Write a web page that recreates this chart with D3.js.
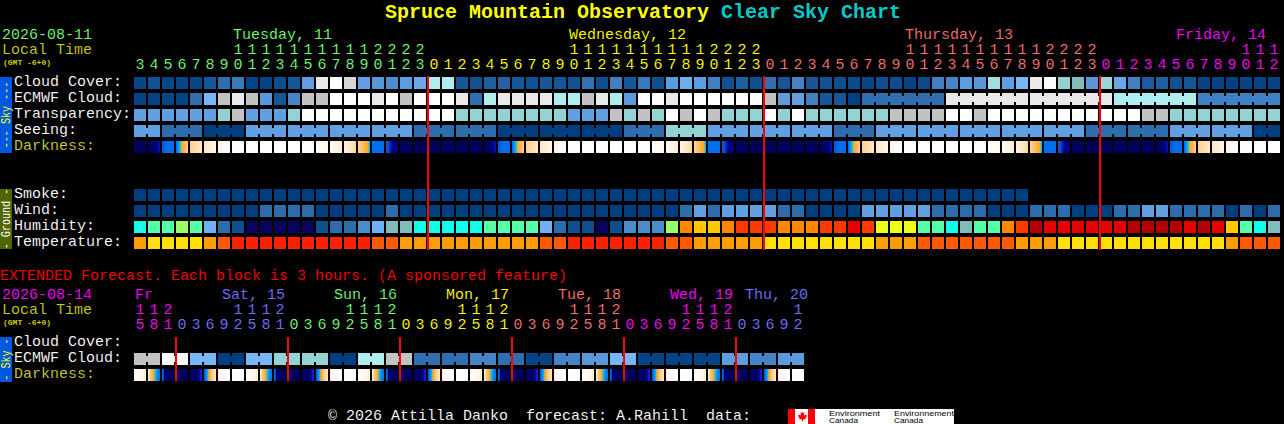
<!DOCTYPE html>
<html><head><meta charset="utf-8">
<script src="https://cdn.jsdelivr.net/npm/d3@7/dist/d3.min.js"></script>
<style>
html,body{margin:0;padding:0;background:#000;overflow:hidden}
svg{display:block}
text{font-family:"Liberation Mono",monospace;font-size:15px;white-space:pre;-webkit-font-smoothing:none}
.thin text,text.thin{stroke:#000;stroke-width:.1px}
</style></head><body><svg id="c" width="1284" height="424"></svg>
<script>
// ---------- data ----------
const mainHours=[3,4,5,6,7,8,9,10,11,12,13,14,15,16,17,18,19,20,21,22,23,
0,1,2,3,4,5,6,7,8,9,10,11,12,13,14,15,16,17,18,19,20,21,22,23,
0,1,2,3,4,5,6,7,8,9,10,11,12,13,14,15,16,17,18,19,20,21,22,23,
0,1,2,3,4,5,6,7,8,9,10,11,12];
const mainDayLabels=["Tuesday, 11","Wednesday, 12","Thursday, 13","Friday, 14"];
const mainDayFirstCol=[0,21,45,69];
const mainDayLabelCol=[7.07,31.07,55.07,74.43];
const midnightCols=[21,45,69];
const extHours=[15,18,21,0,3,6,9,12,15,18,21,0,3,6,9,12,15,18,21,0,3,6,9,12,15,18,21,0,3,6,9,12,15,18,21,0,3,6,9,12,15,18,21,0,3,6,9,12];
const extDayLabels=["Fr","Sat, 15","Sun, 16","Mon, 17","Tue, 18","Wed, 19","Thu, 20"];
const extDayFirstCol=[0,3,11,19,27,35,43];
const extDayLabelCol=[0.07,6.29,14.29,22.29,30.29,38.29,43.64];
const extMidnightCols=[3,11,19,27,35,43];

const cloudCover=[5,12,5,5,5,15,30,35,3,3,10,15,50,90,100,85,50,45,42,48,52,
72,72,15,12,20,22,15,12,15,15,12,32,10,38,15,35,10,47,53,48,38,12,20,10,
30,15,40,15,12,10,8,
5,10,8,4,8,38,40,48,45,70,50,55,90,98,67,63,45,68,52,38,18,20,12,14,3,3,2,4,4,3];
const ecmwfCloud=[3,3,4,3,30,55,80,90,80,45,15,40,80,80,100,100,100,90,100,80,100,
100,100,90,30,72,90,90,90,90,72,72,80,90,72,47,100,100,90,100,100,100,100,100,100,80,48,50,38,15,15,2,
30,30,30,30,30,30,90,90,90,90,90,90,90,90,90,90,90,90,72,72,72,72,72,72,38,38,38,38,38,38];
const ecmwfGroupStarts=[52,58,64,70,76];
const transparency=[3,3,3,3,3,3,2,1,3,3,3,2,0,0,0,0,0,0,0,0,0,
0,0,2,2,2,2,2,2,2,2,3,3,3,1,2,1,2,0,1,0,1,2,2,2,0,2,0,2,2,2,2,2,2,
1,1,1,1,0,0,1,0,0,0,0,0,0,0,0,0,0,0,1,1,2,2,2,2,2,2,2,2];
const seeing=[3,3,4,4,4,5,5,5,3,3,3,3,3,3,3,3,3,3,3,3,4,4,4,4,4,4,5,5,5,5,5,5,5,5,5,4,4,4,2,2,2,
3,3,3,3,3,3,3,3,3,4,4,4,3,3,3,3,3,3,3,3,3,3,3,3,3,3,3,4,4,4,4,4,4,3,3,3,3,3,3,5,5];
const seeingGroupStarts=[0,2,5,8,11,14,17,20,23,26,29,32,35,38,41,44,47,50,53,56,59,62,65,68,71,74,77,80];
const darkness=[
[1,1],[1,1,2.3],[3.3,4,4],[4,7],[7.2,8],[8,9],[9,9.7],[9.8,10],[10,10],[10,10],[10,10],[10,10],[10,9.8],[9.8,9.2],[9.4,8.4],[8.7,7.4],[7.3,5],[4,4],[3.5,2,1.2],[1,1],[0.8,0.8],
[1,1],[1,1],[1,1],[1,1],[1,1,2.3],[3.3,4,4],[4,7],[7.2,8],[8,9],[9,9.7],[9.8,10],[10,10],[10,10],[10,10],[10,10],[10,9.8],[9.8,9.2],[9.4,8.4],[8.7,7.4],[7.3,5],[4,4],[3.5,2,1.2],[1,1],[0.8,0.8],
[1,1],[1,1],[1,1],[1,1],[1,1,2.3],[3.3,4,4],[4,7],[7.2,8],[8,9],[9,9.7],[9.8,10],[10,10],[10,10],[10,10],[10,10],[10,9.8],[9.8,9.2],[9.4,8.4],[8.7,7.4],[7.3,5],[4,4],[3.5,2,1.2],[1,1],[0.8,0.8],
[1,1],[1,1],[1,1],[1,1],[1,1,2.3],[3.3,4,4],[4,7],[7.2,8],[8,9],[9,9.7],[9.8,10],[10,10],[10,10]];
const smoke=[0,0,0,0,0,0,0,0,0,0,0,0,0,0,0,0,0,0,0,0,0,0,0,0,0,0,0,0,0,0,0,0,0,0,0,0,0,0,0,0,0,0,0,0,0,0,0,0,0,0,0,0,0,0,0,0,0,0,0,0,0,0,0,0];
const wind=[0,0,0,0,0,0,0,0,0,1,1,1,1,0,0,0,0,0,1,0,0,
0,0,0,0,0,0,0,0,0,0,0,0,0,0,0,0,0,0,1,2,1,2,2,2,2,1,1,0,0,0,0,
2,2,2,2,2,1,1,1,1,0,0,0,1,1,1,0,0,0,1,1,2,2,1,1,1,1,0,1,0,1];
const humidity=[57,62,62,67,62,47,37,27,20,20,20,20,20,27,37,37,42,47,52,52,57,
57,57,57,57,62,62,62,62,47,37,27,27,20,27,42,42,42,67,82,77,77,82,87,87,87,82,82,82,87,87,92,
87,72,72,72,62,62,57,52,62,62,82,87,97,92,92,92,92,92,92,97,97,97,97,92,97,92,77,62,57,52];
const temperature=[2,1,1,1,1,2,3,4,4,4,4,4,4,4,4,4,4,3,3,2,2,
2,2,2,2,2,2,2,2,3,3,4,4,4,4,4,4,4,3,3,2,2,2,2,2,1,1,1,1,1,1,1,
1,2,2,2,3,3,3,3,3,3,3,2,2,2,1,1,1,1,1,1,1,1,1,1,1,1,2,3,3,3];
const extEcmwfPairs=[80,100,55,0,55,67,67,0,72,80,30,30,40,30,3,40,45,55,3,3,3,48,40,47];
const extDarkness=[
[10,8.5],[8,6.5,5.4,4.5,4],[4,1.5,1,1,1,1],
[1,1],[1,1,1,2,2.6],[3.5,4.5,5.4,6.5,7.5,8],[8.5,9.5,10,10],[10,10],[10,8.5],[8,6.5,5.4,4.5,4],[4,1.5,1,1,1,1],
[1,1],[1,1,1,2,2.6],[3.5,4.5,5.4,6.5,7.5,8],[8.5,9.5,10,10],[10,10],[10,8.5],[8,6.5,5.4,4.5,4],[4,1.5,1,1,1,1],
[1,1],[1,1,1,2,2.6],[3.5,4.5,5.4,6.5,7.5,8],[8.5,9.5,10,10],[10,10],[10,8.5],[8,6.5,5.4,4.5,4],[4,1.5,1,1,1,1],
[1,1],[1,1,1,2,2.6],[3.5,4.5,5.4,6.5,7.5,8],[8.5,9.5,10,10],[10,10],[10,8.5],[8,6.5,5.4,4.5,4],[4,1.5,1,1,1,1],
[1,1],[1,1,1,2,2.6],[3.5,4.5,5.4,6.5,7.5,8],[8.5,9.5,10,10],[10,10],[10,8.5],[8,6.5,5.4,4.5,4],[4,1.5,1,1,1,1],
[1,1],[1,1,1,2,2.6],[3.5,4.5,5.4,6.5,7.5,8],[8.5,9.5,10,10],[10,10]];
const mainDayColors=["#70ff70","#ffff00","#ff7070","#ff00ff"];
const extDayColors=["#ff00ff","#7070ff","#70ff70","#ffff00","#ff7070","#ff00ff","#7070ff"];

// ---------- scales ----------
const cloudColor=d3.scaleLinear()
 .domain([0,10,20,30,40,45,50,55,63,67,70,72,80,90,100])
 .range(["#003f7f","#0f4f8f","#1f5f9f","#2f6faf","#4585c5","#5898d8","#60a0e2","#77b7f7","#80bcbc","#93d3d3","#a2e0e0","#aeeeee","#c2c2c2","#e9e9e9","#ffffff"]);
const transparencyColor=d3.scaleOrdinal([3,2,1,0],["#60a0e2","#93d3d3","#c2c2c2","#ffffff"]);
const seeingColor=d3.scaleOrdinal([5,4,3,2],["#003f7f","#2e6dad","#60a0e2","#93d3d3"]);
const windColor=d3.scaleOrdinal([0,1,2],["#003f7f","#2e6dad","#60a0e2"]);
const smokeColor=d3.scaleOrdinal([0],["#003f7f"]);
const tempColor=d3.scaleOrdinal([1,2,3,4],["#ffe000","#ff9c00","#ff5a00","#ff2000"]);
const humidityColor=d3.scaleThreshold()
 .domain([25,30,35,40,45,50,55,60,65,70,75,80,85,90,95])
 .range(["#08035f","#0f4f8f","#1f5f9f","#2e6dad","#4c8ccc","#70b0f8","#80bcbc","#0fffe8","#55ffaa","#99ff66","#ecff14","#ffc800","#ff8800","#ff3800","#e80000","#b50000"]);
const darkColor=d3.scaleLinear()
 .domain([0,1,2,3,4,5,5.4,7,8,9,10])
 .range(["#000048","#000060","#0000a0","#0050d0","#0070f0","#00c0ff","#ffa820","#ffc880","#ffe8c8","#fff6ea","#ffffff"]);

const x=d3.scaleBand().domain(d3.range(82)).range([134,1280]).paddingInner(2/14).paddingOuter(0);
const xe=d3.scaleBand().domain(d3.range(48)).range([134,804]).paddingInner(2/14).paddingOuter(0);
const colPos=d3.scaleLinear().domain([0,1]).range([134,148]);
const mainRows=d3.scaleOrdinal(["cloud","ecmwf","trans","seeing","dark","smoke","wind","hum","temp"],[77,93,109,125,141,189,205,221,237]);
const extRows=d3.scaleOrdinal(["cloud","ecmwf","dark"],[337,353,369]);
const svg=d3.select("#c");
const blockH=12;
const blockW=xs=>Math.round(xs.bandwidth());
const px=v=>Math.round(v);

function text(s,xx,y,fill){
  return svg.append("text").attr("class","thin").attr("x",xx).attr("y",y).attr("fill",fill).text(s);
}
function row(xs,values,y,color){
  svg.append("g").attr("shape-rendering","crispEdges").selectAll("rect").data(values).join("rect")
    .attr("x",(d,i)=>px(xs(i))).attr("y",y).attr("width",blockW(xs)).attr("height",blockH).attr("fill",d=>color(d));
}
function bridges(xs,values,y,color,cols){
  svg.append("g").attr("shape-rendering","crispEdges").selectAll("rect").data(cols).join("rect")
    .attr("x",i=>px(xs(i))+blockW(xs)).attr("y",y+3).attr("width",2).attr("height",blockH-6).attr("fill",i=>color(values[i]));
}
function gradientRow(xs,stops,y){
  const w=blockW(xs), strips=[];
  stops.forEach((s,i)=>{
    const f=d3.piecewise(d3.interpolateNumber,s);
    d3.range(w).forEach(p=>strips.push({i,p,v:f(p/(w-1))}));
  });
  svg.append("g").attr("shape-rendering","crispEdges").selectAll("rect").data(strips).join("rect")
    .attr("x",d=>px(xs(d.i))+d.p).attr("y",y).attr("width",1).attr("height",blockH).attr("fill",d=>darkColor(d.v));
}
function hourLabels(xs,hours,first,colors,yTop,yBot){
  const colorOf=i=>colors[d3.bisectRight(first,i)-1];
  svg.append("g").attr("class","thin").attr("text-anchor","middle").selectAll("text").data(hours).join("text")
    .attr("x",(d,i)=>xs(i)+xs.bandwidth()/2).attr("y",yBot).attr("fill",(d,i)=>colorOf(i)).text(d=>d%10);
  const tens=hours.map((h,i)=>({h,i})).filter(d=>d.h>=10);
  svg.append("g").attr("class","thin").attr("text-anchor","middle").selectAll("text").data(tens).join("text")
    .attr("x",d=>xs(d.i)+xs.bandwidth()/2).attr("y",yTop).attr("fill",d=>colorOf(d.i)).text(d=>Math.floor(d.h/10));
}
function sideTab(y,h,fill,ink,label){
  svg.append("rect").attr("x",0).attr("y",y).attr("width",12).attr("height",h).attr("fill",fill).attr("shape-rendering","crispEdges");
  svg.append("text").attr("transform",`translate(9.5,${y+h/2}) rotate(-90) scale(0.84,1)`).attr("text-anchor","middle").attr("fill",ink)
    .style("font-size","12px").text(label);
}

// ---------- title ----------
svg.append("text").attr("x",385).attr("y",18).style("font-size","20px").style("font-weight","bold")
  .call(t=>{t.append("tspan").attr("fill","#ffff00").text("Spruce Mountain Observatory ");
            t.append("tspan").attr("fill","#00cccc").text("Clear Sky Chart");});

// ---------- header ----------
text("2026-08-11",2,39,"#70ff70");
text("Local Time",2,54,"#cccc00");
svg.append("text").attr("x",3).attr("y",65).attr("fill","#cccc00").style("font-size","8px").style("font-weight","bold").text("(GMT -6+0)");
mainDayLabels.forEach((d,i)=>text(d,colPos(mainDayLabelCol[i]),39,mainDayColors[i]));
hourLabels(x,mainHours,mainDayFirstCol,mainDayColors,54,69);

// ---------- main rows ----------
[["Cloud Cover:",86,"#fff"],["ECMWF Cloud:",102,"#fff"],["Transparency:",118,"#fff"],["Seeing:",134,"#fff"],["Darkness:",150,"#cccc33"],
 ["Smoke:",198,"#fff"],["Wind:",214,"#fff"],["Humidity:",230,"#fff"],["Temperature:",246,"#fff"]]
 .forEach(d=>text(d[0],14,d[1],d[2]));
sideTab(77,76,"#0058e0","#ffff00","--- Sky ---");
sideTab(189,60,"#4f6600","#ffffff","- Ground -");

row(x,cloudCover,mainRows("cloud"),cloudColor);
row(x,ecmwfCloud,mainRows("ecmwf"),cloudColor);
bridges(x,ecmwfCloud,mainRows("ecmwf"),cloudColor,d3.range(52,81).filter(i=>!ecmwfGroupStarts.includes(i+1)));
row(x,transparency,mainRows("trans"),transparencyColor);
row(x,seeing,mainRows("seeing"),seeingColor);
bridges(x,seeing,mainRows("seeing"),seeingColor,d3.range(0,81).filter(i=>!seeingGroupStarts.includes(i+1)));
gradientRow(x,darkness,mainRows("dark"));
row(x,smoke,mainRows("smoke"),smokeColor);
row(x,wind,mainRows("wind"),windColor);
row(x,humidity,mainRows("hum"),humidityColor);
row(x,temperature,mainRows("temp"),tempColor);
svg.append("g").attr("shape-rendering","crispEdges").selectAll("rect").data(midnightCols).join("rect")
  .attr("x",c=>px(x(c))-1).attr("y",mainRows("cloud")-1).attr("width",2).attr("height",mainRows("temp")+blockH+2-mainRows("cloud")).attr("fill","#ff0000");

// ---------- extended ----------
text("EXTENDED Forecast. Each block is 3 hours. (A sponsored feature)",0,280,"#ff0000");
text("2026-08-14",2,299,"#ff00ff");
text("Local Time",2,314,"#cccc00");
svg.append("text").attr("x",3).attr("y",325).attr("fill","#cccc00").style("font-size","8px").style("font-weight","bold").text("(GMT -6+0)");
extDayLabels.forEach((d,i)=>text(d,colPos(extDayLabelCol[i]),299,extDayColors[i]));
hourLabels(xe,extHours,extDayFirstCol,extDayColors,314,329);
[["Cloud Cover:",346,"#fff"],["ECMWF Cloud:",362,"#fff"],["Darkness:",378,"#cccc33"]].forEach(d=>text(d[0],14,d[1],d[2]));
sideTab(337,45,"#0058e0","#ffff00","- Sky -");
const extEcmwf=extEcmwfPairs.flatMap(v=>[v,v]);
row(xe,extEcmwf,extRows("ecmwf"),cloudColor);
bridges(xe,extEcmwf,extRows("ecmwf"),cloudColor,d3.range(0,48,2));
gradientRow(xe,extDarkness,extRows("dark"));
svg.append("g").attr("shape-rendering","crispEdges").selectAll("rect").data(extMidnightCols).join("rect")
  .attr("x",c=>px(xe(c))-1).attr("y",extRows("cloud")).attr("width",2).attr("height",extRows("dark")+blockH-extRows("cloud")).attr("fill","#ff0000");

// ---------- footer ----------
text("\u00a9 2026 Attilla Danko  forecast: A.Rahill  data:",328,420,"#ffffff");
const fg=svg.append("g").attr("shape-rendering","crispEdges");
fg.append("rect").attr("x",788).attr("y",409).attr("width",166).attr("height",15).attr("fill","#fff");
fg.append("rect").attr("x",788).attr("y",409).attr("width",7).attr("height",15).attr("fill","#f00");
fg.append("rect").attr("x",808).attr("y",409).attr("width",7).attr("height",15).attr("fill","#f00");
svg.append("path").attr("fill","#f00").attr("d","M801.5 411l1.5 2 1.5-.5-.5 3 2-1 1 1.5-1.5 2 .5 1-3 .5v2h-1v-2l-3-.5.5-1-1.5-2 1-1.5 2 1-.5-3 1.5.5z");
[["Environment",829,415.5,51],["Canada",829,423,29],["Environnement",894,415.5,60],["Canada",894,423,29]].forEach(d=>
  svg.append("text").attr("x",d[1]).attr("y",d[2]).attr("fill","#000").attr("textLength",d[3]).attr("lengthAdjust","spacingAndGlyphs")
   .style("font-size","6.5px").style("font-family","'Liberation Sans',sans-serif").text(d[0]));
</script></body></html>
